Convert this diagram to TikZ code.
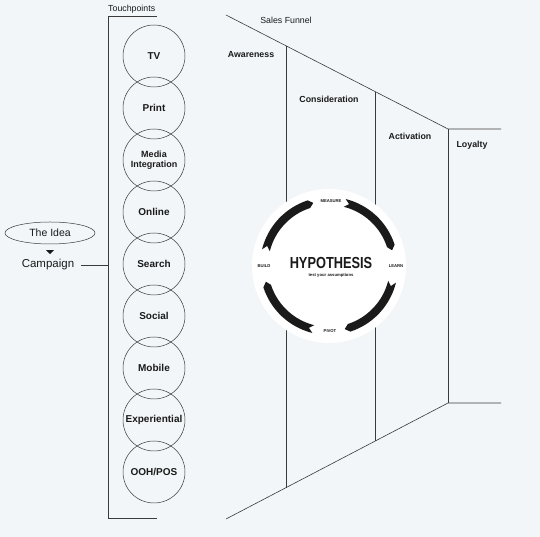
\documentclass[tikz,border=0pt]{standalone}
\usepackage{fontspec}
\setmainfont{Liberation Sans}
\usepackage{graphicx}
\usetikzlibrary{calc,positioning,shapes.geometric}
\definecolor{paper}{HTML}{F2F6F9}
\definecolor{ink}{HTML}{1A1A1A}
\definecolor{rule}{HTML}{3A3A3A}
\newcommand{\Lab}{\fontsize{8.8}{10}\selectfont}
\newcommand{\Tiny}{\fontsize{4.2}{5}\selectfont\bfseries}

\begin{document}
\begin{tikzpicture}[x=1pt,y=1pt, font=\Lab,
    tp/.style={circle, draw=rule, line width=0.5pt, minimum size=62pt, inner sep=0pt,
      align=center, text=ink, font=\fontsize{10}{11}\selectfont\bfseries},
    stage/.style={text=ink, font=\Lab\bfseries, inner sep=0pt},
    fun/.style={draw=rule, line width=0.6pt},
    cue/.style={text=ink, font=\Tiny, inner sep=0pt}]
  \useasboundingbox (0,0) rectangle (540,537);
  \fill[paper] (0,0) rectangle (540,537);

  % funnel
  \coordinate (t0) at (226,522); \coordinate (t3) at (448,408);
  \coordinate (b0) at (226,18);  \coordinate (b3) at (448,134);
  \draw[fun] (t0) -- (t3) -- (501,408);
  \draw[fun] (b0) -- (b3) -- (501,134);
  \foreach \x in {286,375}{
    \draw[fun] ($(t0)!{(\x-226)/222}!(t3)$) -- ($(b0)!{(\x-226)/222}!(b3)$);}
  \draw[fun] (t3) -- (b3);
  \node[text=ink, inner sep=0pt] (sales) at (286,517) {Sales Funnel};
  \foreach \nm/\x/\y/\t in {aw/251/482/Awareness, co/329/438/Consideration,
      ac/410/401/Activation, lo/472/392/Loyalty}{
    \node[stage] (\nm) at (\x,\y) {\t};}

  % hypothesis loop
  \coordinate (hc) at (329,271);
  \node[circle, fill=white, minimum size=154pt, inner sep=0pt] (hyp) at (hc) {};
  \foreach \k in {0,1,2,3}{
    \pgfmathsetmacro\s{76+90*\k}\pgfmathsetmacro\ss{\s-4}
    \pgfmathsetmacro\e{14+90*\k}\pgfmathsetmacro\ee{\e+4}
    \fill[ink] ($(hc)+(\s:69)$) arc[start angle=\s, end angle=\ee, radius=69]
      -- ($(hc)+(\e:65)$) -- ($(hc)+(\ee:61)$)
      arc[start angle=\ee, end angle=\s, radius=61] -- ($(hc)+(\ss:65)$) -- cycle;}
  \node[text=ink, inner sep=0pt] (hypo) at (331,274)
    {\scalebox{0.8}[1]{\fontsize{16}{16}\selectfont\bfseries HYPOTHESIS}};
  \node[cue, below=4pt of hypo] (test) {test your assumptions};
  \node[cue] (measure) at (331,336) {MEASURE};
  \node[cue] (learn) at (396,271) {LEARN};
  \node[cue] (pivot) at (330,206) {PIVOT};
  \node[cue] (build) at (264,271) {BUILD};

  % touchpoints
  \draw[rule, line width=0.7pt] (157,521) -- (108,521) -- (108,19) -- (157,19);
  \node[anchor=south west, inner sep=0pt, text=ink] (touch) at (108,523) {Touchpoints};
  \foreach \i/\t in {0/TV, 1/Print, 3/Online, 4/Search, 5/Social, 6/Mobile, 7/Experiential, 8/{OOH/POS}}{
    \node[tp] (tp\i) at (154,481-52*\i) {\t};}
  \node[tp, font=\fontsize{9}{10.5}\selectfont\bfseries] (tp2) at (154,377) {Media\\Integration};

  % idea / campaign
  \node[ellipse, draw=rule, line width=0.5pt, minimum width=90pt, minimum height=22pt,
    inner sep=0pt, text=ink, font=\fontsize{10.5}{12}\selectfont] (idea) at (50,304) {The Idea};
  \node[text=ink, inner sep=0pt, font=\fontsize{11.5}{13}\selectfont] (camp) at (48,272) {Campaign};
  \fill[ink] ($(idea.south)+(-4,-6)$) -- ++(8,0) -- ++(-4,-4) -- cycle;
  \coordinate (brk) at (108,272);
  \draw[rule, line width=0.6pt] ([xshift=7pt]camp.east) -- (brk);
\end{tikzpicture}
\end{document}
